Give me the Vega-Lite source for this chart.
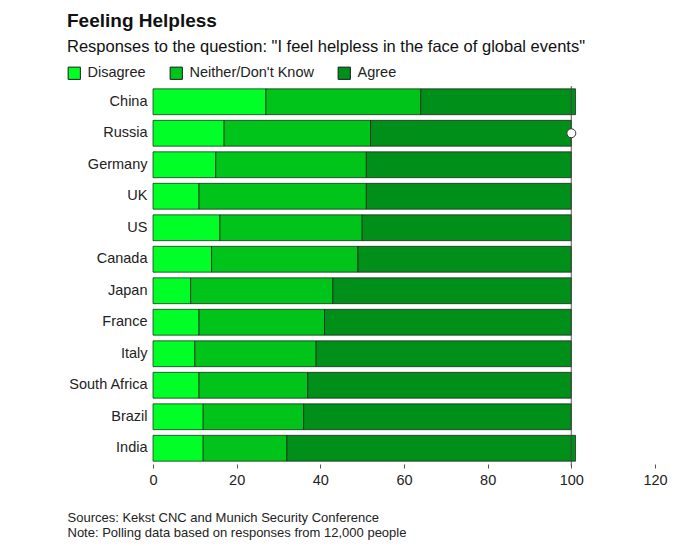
{
  "$schema": "https://vega.github.io/schema/vega-lite/v6.json",
  "width": 502,
  "height": 378,
  "autosize": "none",
  "padding": {"left": 153, "top": 86, "right": 25, "bottom": 82},
  "background": "white",
  "config": {
    "font": "Liberation Sans",
    "view": {"stroke": null}
  },
  "title": {
    "text": "Feeling Helpless",
    "subtitle": "Responses to the question: \"I feel helpless in the face of global events\"",
    "anchor": "start",
    "frame": "group",
    "dx": -86,
    "offset": 11,
    "fontSize": 19,
    "fontWeight": "bold",
    "color": "#111",
    "subtitleFontSize": 16.5,
    "subtitleColor": "#111",
    "subtitlePadding": 8
  },
  "datasets": {
    "survey": [
      {"country": "China", "response": "Disagree", "k": 1, "value": 27},
      {"country": "China", "response": "Neither/Don't Know", "k": 2, "value": 37},
      {"country": "China", "response": "Agree", "k": 3, "value": 37},
      {"country": "Russia", "response": "Disagree", "k": 1, "value": 17},
      {"country": "Russia", "response": "Neither/Don't Know", "k": 2, "value": 35},
      {"country": "Russia", "response": "Agree", "k": 3, "value": 48},
      {"country": "Germany", "response": "Disagree", "k": 1, "value": 15},
      {"country": "Germany", "response": "Neither/Don't Know", "k": 2, "value": 36},
      {"country": "Germany", "response": "Agree", "k": 3, "value": 49},
      {"country": "UK", "response": "Disagree", "k": 1, "value": 11},
      {"country": "UK", "response": "Neither/Don't Know", "k": 2, "value": 40},
      {"country": "UK", "response": "Agree", "k": 3, "value": 49},
      {"country": "US", "response": "Disagree", "k": 1, "value": 16},
      {"country": "US", "response": "Neither/Don't Know", "k": 2, "value": 34},
      {"country": "US", "response": "Agree", "k": 3, "value": 50},
      {"country": "Canada", "response": "Disagree", "k": 1, "value": 14},
      {"country": "Canada", "response": "Neither/Don't Know", "k": 2, "value": 35},
      {"country": "Canada", "response": "Agree", "k": 3, "value": 51},
      {"country": "Japan", "response": "Disagree", "k": 1, "value": 9},
      {"country": "Japan", "response": "Neither/Don't Know", "k": 2, "value": 34},
      {"country": "Japan", "response": "Agree", "k": 3, "value": 57},
      {"country": "France", "response": "Disagree", "k": 1, "value": 11},
      {"country": "France", "response": "Neither/Don't Know", "k": 2, "value": 30},
      {"country": "France", "response": "Agree", "k": 3, "value": 59},
      {"country": "Italy", "response": "Disagree", "k": 1, "value": 10},
      {"country": "Italy", "response": "Neither/Don't Know", "k": 2, "value": 29},
      {"country": "Italy", "response": "Agree", "k": 3, "value": 61},
      {"country": "South Africa", "response": "Disagree", "k": 1, "value": 11},
      {"country": "South Africa", "response": "Neither/Don't Know", "k": 2, "value": 26},
      {"country": "South Africa", "response": "Agree", "k": 3, "value": 63},
      {"country": "Brazil", "response": "Disagree", "k": 1, "value": 12},
      {"country": "Brazil", "response": "Neither/Don't Know", "k": 2, "value": 24},
      {"country": "Brazil", "response": "Agree", "k": 3, "value": 64},
      {"country": "India", "response": "Disagree", "k": 1, "value": 12},
      {"country": "India", "response": "Neither/Don't Know", "k": 2, "value": 20},
      {"country": "India", "response": "Agree", "k": 3, "value": 69}
    ],
    "hover": [{"country": "Russia", "total": 100}]
  },
  "layer": [
    {
      "data": {"name": "survey"},
      "mark": {"type": "bar", "stroke": "#1a1a1a", "strokeWidth": 1, "strokeOpacity": 0.7},
      "encoding": {
        "y": {
          "field": "country",
          "type": "nominal",
          "sort": null,
          "scale": {"paddingInner": 0.18, "paddingOuter": 0.09},
          "axis": {
            "title": null,
            "domain": false,
            "ticks": false,
            "labelFontSize": 14.5,
            "labelColor": "#222",
            "labelPadding": 6
          }
        },
        "x": {
          "field": "value",
          "type": "quantitative",
          "stack": "zero",
          "scale": {"domain": [0, 120], "nice": false},
          "axis": {
            "values": [0, 20, 40, 60, 80, 100, 120],
            "grid": false,
            "domain": false,
            "ticks": true,
            "tickSize": 4,
            "tickColor": "#555",
            "tickOffset": 0,
            "labelFlush": false,
            "labelFontSize": 14.5,
            "labelColor": "#222",
            "labelPadding": 5,
            "title": ["Sources: Kekst CNC and Munich Security Conference", "Note: Polling data based on responses from 12,000 people"],
            "titleFontSize": 13,
            "titleFontWeight": "normal",
            "titleColor": "#222",
            "titleAnchor": "start",
            "titleAlign": "left",
            "titleX": -86,
            "titleY": 47,
            "titleLineHeight": 15
          }
        },
        "color": {
          "field": "response",
          "type": "nominal",
          "scale": {
            "domain": ["Disagree", "Neither/Don't Know", "Agree"],
            "range": ["#00ff26", "#00c41a", "#008f18"]
          },
          "legend": {
            "title": null,
            "orient": "none",
            "direction": "horizontal",
            "legendX": -86,
            "legendY": -20,
            "symbolType": "square",
            "symbolSize": 150,
            "symbolStrokeColor": "#1a1a1a",
            "symbolStrokeWidth": 1,
            "symbolOpacity": 1,
            "labelFontSize": 14.5,
            "labelColor": "#222",
            "labelOffset": 6,
            "columnPadding": 22,
            "gridAlign": "none"
          }
        },
        "order": {"field": "k", "type": "quantitative"}
      }
    },
    {
      "data": {"name": "hover"},
      "mark": {"type": "rule", "color": "#444", "strokeWidth": 1.2, "opacity": 0.75, "y": 0, "y2": 380},
      "encoding": {
        "x": {"field": "total", "type": "quantitative"}
      }
    },
    {
      "data": {"name": "hover"},
      "mark": {"type": "point", "shape": "circle", "filled": true, "fill": "white", "stroke": "#333", "strokeWidth": 1, "size": 80, "opacity": 1},
      "encoding": {
        "x": {"field": "total", "type": "quantitative"},
        "y": {"field": "country", "type": "nominal", "sort": null}
      }
    }
  ]
}
